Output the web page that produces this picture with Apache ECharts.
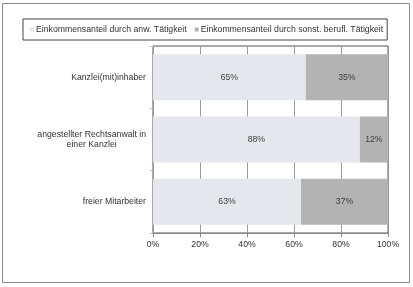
<!DOCTYPE html>
<html><head><meta charset="utf-8">
<script src="https://cdn.jsdelivr.net/npm/echarts@6/dist/echarts.min.js"></script>
<style>html,body{margin:0;padding:0;background:#fff}#c{width:413px;height:287px}</style>
</head><body><div id="c"></div>
<script>
const categories = ['Kanzlei(mit)inhaber', 'angestellter Rechtsanwalt in\neiner Kanzlei', 'freier Mitarbeiter'];
const seriesNames = ['Einkommensanteil durch anw. Tätigkeit', 'Einkommensanteil durch sonst. berufl. Tätigkeit'];
const anwValues = [65, 88, 63];
const sonstValues = [35, 12, 37];
const xTicks = [0, 20, 40, 60, 80, 100];

const font = 'Liberation Sans, Arial, sans-serif';
const fs = 8.7;
const chart = echarts.init(document.getElementById('c'), null, {renderer: 'canvas'});
const lbl = {show: true, position: 'inside', formatter: '{c}%', color: '#404040', fontSize: fs, fontFamily: font};
chart.setOption({
  animation: false,
  graphic: [{type: 'rect', shape: {x: 2.5, y: 3.5, width: 407, height: 279}, style: {fill: 'none', stroke: '#8a8a8a', lineWidth: 1}, z: -1}],
  legend: {
    left: 23, top: 19, orient: 'horizontal',
    data: seriesNames,
    borderColor: '#444', borderWidth: 1, padding: [6, 4, 6, 7],
    itemWidth: 4, itemHeight: 4, itemGap: 8,
    icon: 'rect',
    textStyle: {fontSize: fs, fontFamily: font, color: '#333', padding: [0, 0, 0, -3]}
  },
  grid: {left: 153, right: 25, top: 46, bottom: 54, show: true, borderColor: '#555', borderWidth: 1},
  xAxis: {
    type: 'value', min: 0, max: 100, interval: 20,
    axisLine: {show: true, lineStyle: {color: '#888'}},
    axisTick: {show: true, length: 4, lineStyle: {color: '#888'}},
    splitLine: {show: true, lineStyle: {color: '#9a9a9a'}},
    axisLabel: {formatter: v => v + '%', fontSize: fs, fontFamily: font, color: '#333', margin: 7,
      customValues: xTicks}
  },
  yAxis: {
    type: 'category', inverse: true, data: categories,
    axisLine: {show: true, lineStyle: {color: '#999'}},
    axisTick: {show: true, length: 3, lineStyle: {color: '#bbb'}},
    axisLabel: {fontSize: fs, fontFamily: font, color: '#333', margin: 7, align: 'right',
      formatter: v => v.split('\n').map(s => '{c|' + s + '}').join('\n'),
      rich: {c: {align: 'center', fontSize: fs, fontFamily: font, color: '#333', lineHeight: 10}}}
  },
  series: [
    {name: seriesNames[0], type: 'bar', stack: 's', data: anwValues, barWidth: 46,
      itemStyle: {color: '#e4e8ec'}, label: lbl},
    {name: seriesNames[1], type: 'bar', stack: 's', data: sonstValues, barWidth: 46,
      itemStyle: {color: '#b3b3b3'}, label: lbl}
  ]
});
</script></body></html>
